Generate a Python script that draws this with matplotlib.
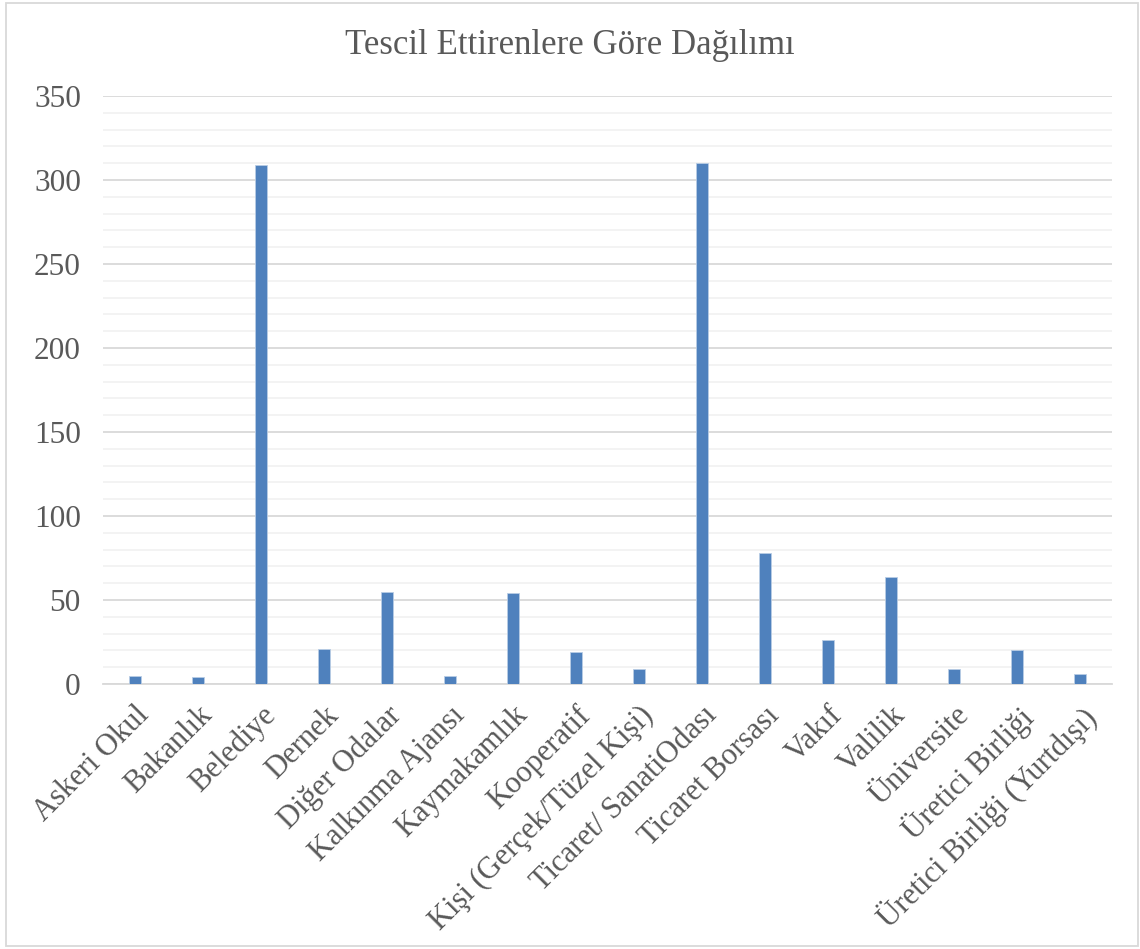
import matplotlib.pyplot as plt
import numpy as np
from matplotlib.patches import Rectangle

categories = ['Askeri Okul', 'Bakanlık', 'Belediye', 'Dernek', 'Diğer Odalar',
              'Kalkınma Ajansı', 'Kaymakamlık', 'Kooperatif',
              'Kişi (Gerçek/Tüzel Kişi)', 'Ticaret/ SanatiOdası',
              'Ticaret Borsası', 'Vakıf', 'Valilik', 'Üniversite',
              'Üretici Birliği', 'Üretici Birliği (Yurtdışı)']
values = [5, 4, 309, 21, 55, 5, 54, 19, 9, 310, 78, 26, 64, 9, 20, 6]
yticks = [0, 50, 100, 150, 200, 250, 300, 350]

plt.rcParams['font.family'] = ['Liberation Serif', 'DejaVu Serif']
text_col = '#595959'

fig = plt.figure(figsize=(11.4, 9.49), dpi=100)
ax = fig.add_axes([0.0904, 0.2792, 0.885, 0.6196])

x = np.arange(len(categories))
ax.bar(x, values, width=0.19, color='#4f81bd', edgecolor='#b9cde5',
       linewidth=0.6, zorder=3)

ax.set_xlim(-0.5, len(categories) - 0.5)
ax.set_ylim(0, 350)
ax.set_yticks(yticks)
ax.set_yticks(np.arange(0, 351, 10), minor=True)
ax.grid(axis='y', which='major', color='#d9d9d9', linewidth=1.3, zorder=0)
ax.grid(axis='y', which='minor', color='#f2f2f2', linewidth=1.3, zorder=0)
for s in ['top', 'right', 'left']:
    ax.spines[s].set_visible(False)
ax.spines['bottom'].set_color('#d9d9d9')
ax.spines['bottom'].set_linewidth(1.3)

ax.tick_params(axis='y', which='both', length=0, pad=16, labelsize=22.5,
               labelcolor=text_col)
ax.tick_params(axis='x', length=0, pad=12, labelsize=22, labelcolor=text_col)
ax.set_xticks(x)
ax.set_xticklabels(categories, rotation=45, ha='right',
                   rotation_mode='anchor')

fig.text(0.5, 1 - 45 / 949, 'Tescil Ettirenlere Göre Dağılımı',
         ha='center', va='center', fontsize=25, color=text_col)

fig.patches.append(Rectangle((6 / 1140, 3 / 949), 1132 / 1140, 943 / 949,
                             transform=fig.transFigure, fill=False,
                             edgecolor='#d9d9d9', linewidth=1.3))

fig.savefig('out.png', dpi=100)
